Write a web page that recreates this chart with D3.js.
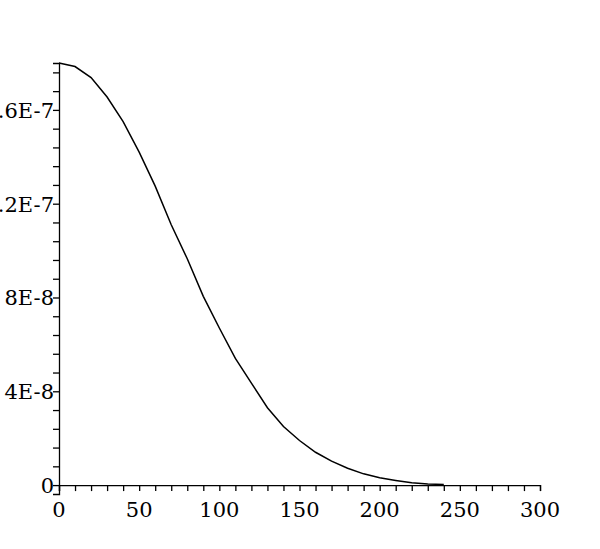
<!DOCTYPE html>
<html><head><meta charset="utf-8">
<script src="https://cdn.jsdelivr.net/npm/d3@7"></script>
<style>body{margin:0;background:#fff}svg{display:block}</style>
</head><body>
<script>
const xValues = [0,10,20,30,40,50,60,70,80,90,100,110,120,130,140,150,160,170,180,190,200,210,220,230,240];
const yValues = [18.0,17.85,17.38,16.55,15.5,14.2,12.75,11.1,9.65,8.05,6.7,5.4,4.35,3.3,2.5,1.9,1.4,1.02,0.72,0.48,0.31,0.2,0.1,0.05,0.03].map(v=>v*1e-8);
const xMajorTicks = [0,50,100,150,200,250,300];
const yMajorTicks = [0,4e-8,8e-8,1.2e-7,1.6e-7];
const yTickLabels = ["0","4E-8","8E-8","1.2E-7","1.6E-7"];

const W=600,H=549;
const svg=d3.select("body").append("svg").attr("width",W).attr("height",H);
const x=d3.scaleLinear().domain([0,300]).range([59,540]);
const y=d3.scaleLinear().domain([-0.38e-8,1.8e-7]).range([494,63]);
const font="DejaVu Serif";

const xMinor=d3.range(0,301,10);
const yMinor=d3.range(0,19,0.8).map(v=>v*1e-8).filter(v=>v<=1.8e-7);

const gx=svg.append("g").attr("transform",`translate(0,${y(0)})`)
  .call(d3.axisBottom(x).tickValues(xMinor).tickFormat("").tickSize(6).tickSizeOuter(6));
gx.selectAll("line,path").attr("stroke","#000").attr("stroke-width",1.3);
gx.selectAll("text").remove();
svg.append("g").selectAll("text").data(xMajorTicks).join("text")
  .attr("x",d=>x(d)).attr("y",517).attr("text-anchor","middle")
  .style("font-family",font).attr("font-size",21).attr("fill","#000").text(d=>d);

const gy=svg.append("g").attr("transform",`translate(${x(0)},0)`)
  .call(d3.axisLeft(y).tickValues(yMinor).tickFormat("").tickSize(6).tickSizeOuter(6));
gy.selectAll("line,path").attr("stroke","#000").attr("stroke-width",1.3);
gy.selectAll("text").remove();
svg.append("g").selectAll("text").data(yMajorTicks).join("text")
  .attr("x",54).attr("y",d=>y(d)+8).attr("text-anchor","end")
  .style("font-family",font).attr("font-size",21).attr("fill","#000")
  .text((d,i)=>yTickLabels[i]);

const line=d3.line().x((d,i)=>x(xValues[i])).y(d=>y(d));
svg.append("path").datum(yValues).attr("d",line).attr("fill","none")
  .attr("stroke","#000").attr("stroke-width",1.5);
</script>
</body></html>
